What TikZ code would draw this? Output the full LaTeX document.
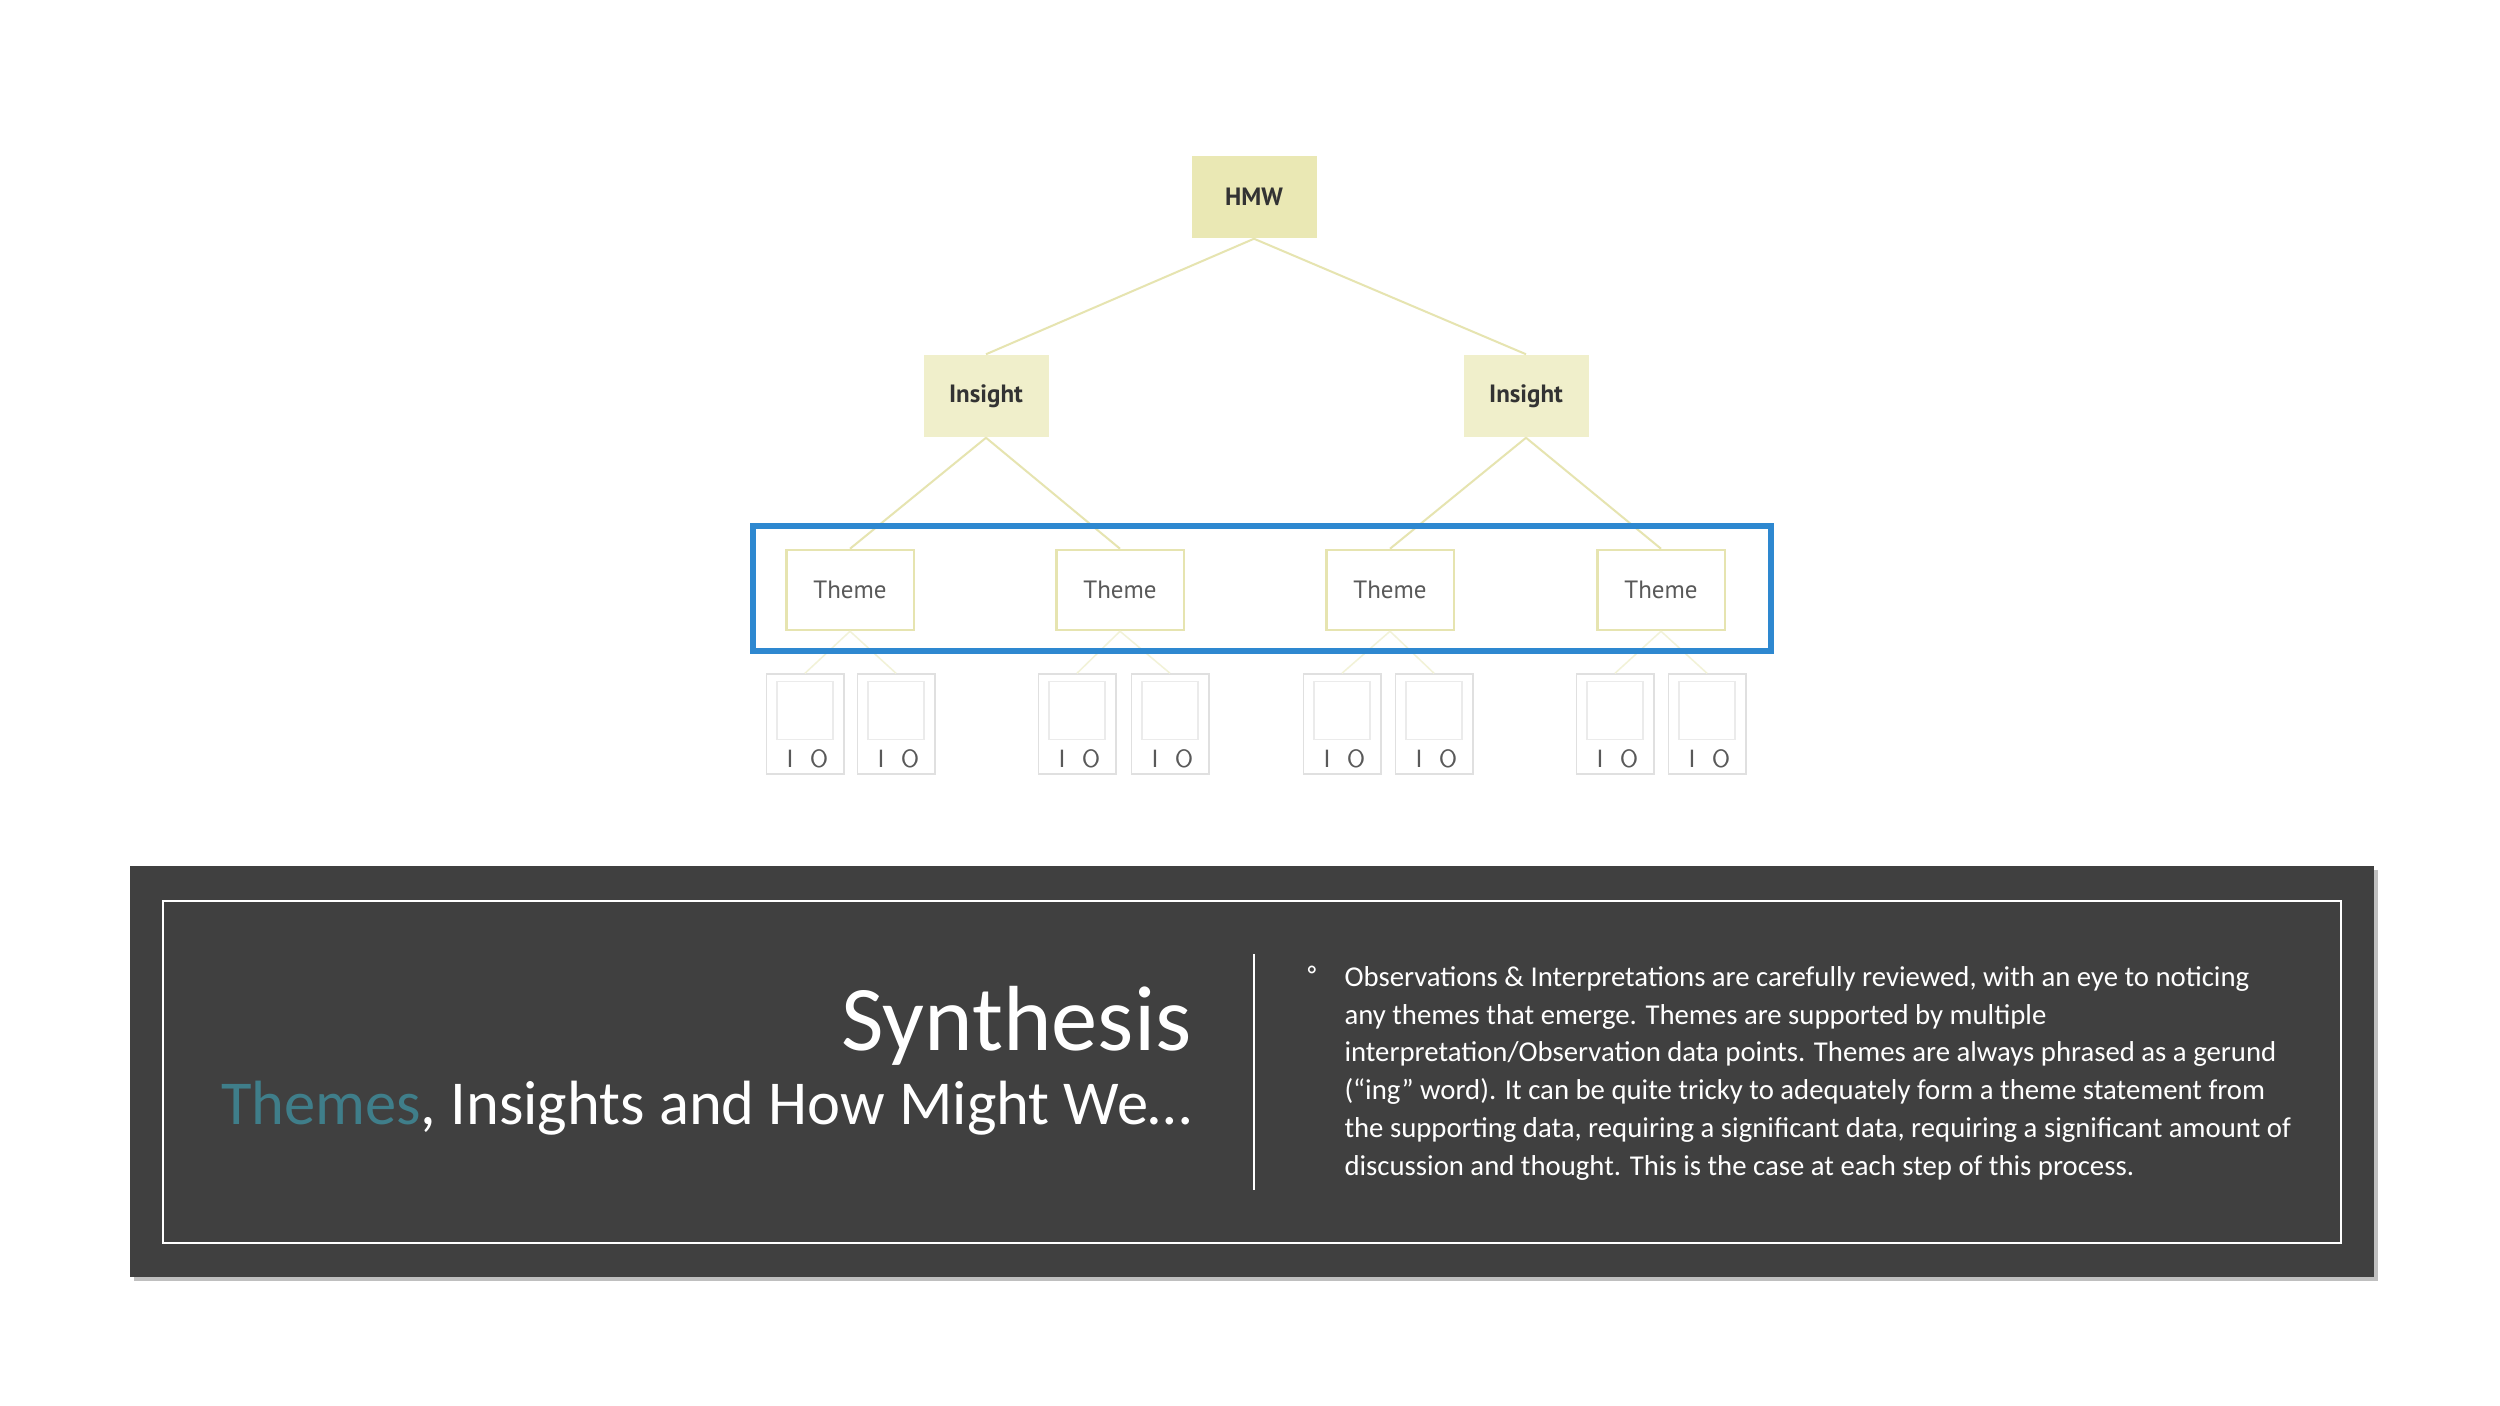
\documentclass[tikz,border=0pt]{standalone}
\usepackage{fontspec}
\setmainfont{Carlito}
\newfontfamily\dinf{PT Sans}
\begin{document}
\begin{tikzpicture}[x=0.4pt,y=-0.4pt,
  lvl/.style={fill=yellowfill,inner sep=0,font=\dinf\fontsize{10}{11}\selectfont,text=black!80},
  themebox/.style={draw=yellowline,line width=1pt,fill=white,minimum width=51pt,minimum height=32pt,inner sep=0,font=\dinf\fontsize{10}{11}\selectfont,text=black!65},
  leaf/.style={draw=black!12,line width=0.6pt,minimum width=31pt,minimum height=40pt,inner sep=0},
  conn/.style={draw=yellowline,line width=0.8pt},
  fconn/.style={draw=yellowline!50,line width=0.6pt}]
\definecolor{yellowfill}{HTML}{EAE8B4}
\definecolor{yellowline}{HTML}{E6E4B0}
\definecolor{panel}{HTML}{404040}
\definecolor{teal}{HTML}{3F7E8A}
\definecolor{blueb}{HTML}{2E88D0}
\useasboundingbox (0,0) rectangle (2500,1406);
\fill[white] (0,0) rectangle (2500,1406);
% tree
\node[lvl,minimum width=50pt,minimum height=33pt] (hmw) at (1254,197) {\bfseries HMW};
\node[lvl,fill=yellowfill!70,minimum width=50pt,minimum height=33pt] (i1) at (986,396) {\bfseries Insight};
\node[lvl,fill=yellowfill!70,minimum width=50pt,minimum height=33pt] (i2) at (1526,396) {\bfseries Insight};
\foreach \n/\x in {t1/850,t2/1120,t3/1390,t4/1661}
  \node[themebox] (\n) at (\x,590) {Theme};
\draw[conn] (hmw.south) -- (i1.north);
\draw[conn] (hmw.south) -- (i2.north);
\draw[conn] (i1.south) -- (t1.north);
\draw[conn] (i1.south) -- (t2.north);
\draw[conn] (i2.south) -- (t3.north);
\draw[conn] (i2.south) -- (t4.north);
\foreach \t/\a/\b/\xa/\xb in {t1/l1/l2/805/896,t2/l3/l4/1077/1170,t3/l5/l6/1342/1434,t4/l7/l8/1615/1707}{
  \node[leaf] (\a) at (\xa,724) {};
  \node[leaf] (\b) at (\xb,724) {};
  \draw[fconn] (\t.south) -- (\a.north);
  \draw[fconn] (\t.south) -- (\b.north);
}
\foreach \l in {l1,l2,l3,l4,l5,l6,l7,l8}{
  \draw[black!8,line width=0.5pt] ([shift={(-28,8)}]\l.north) rectangle ([shift={(28,66)}]\l.north);
  \node[font=\sffamily\fontsize{10}{11}\selectfont,text=black!65] at ([shift={(-15,-16)}]\l.south) {I};
  \node[font=\sffamily\fontsize{10}{11}\selectfont,text=black!65] at ([shift={(14,-16)}]\l.south) {O};
}
\node[draw=blueb,line width=2.4pt,minimum width=407pt,minimum height=50pt,inner sep=0] (hl) at (1262,588) {};
% panel
\fill[black!25] (134,870) rectangle (2378,1281);
\fill[panel] (130,866) rectangle (2374,1277);
\draw[white,line width=0.8pt] (163,901) rectangle (2341,1243);
\draw[white,line width=0.8pt] (1254,954) -- (1254,1190);
\node[anchor=base east,text=white,font=\fontsize{37}{44}\selectfont,inner sep=0] (syn) at (1192,1050) {Synthesis};
\node[anchor=base east,text=white,font=\fontsize{25}{30}\selectfont,inner sep=0] (sub) at (1192,1124) {\textcolor{teal}{Themes}, Insights and How Might We…};
\node[text=white,font=\fontsize{11.5}{15.1}\selectfont,anchor=north west,inner sep=0,align=left] (txt) at (1344,966) {Observations \& Interpretations are carefully reviewed, with an eye to noticing\\any themes that emerge. Themes are supported by multiple\\interpretation/Observation data points. Themes are always phrased as a gerund\\(“ing” word). It can be quite tricky to adequately form a theme statement from\\the supporting data, requiring a significant data, requiring a significant amount of\\discussion and thought. This is the case at each step of this process.};
\node[text=white,font=\fontsize{12}{12}\selectfont,anchor=north,inner sep=0] (bul) at (1312,966) {◦};
\end{tikzpicture}
\end{document}
